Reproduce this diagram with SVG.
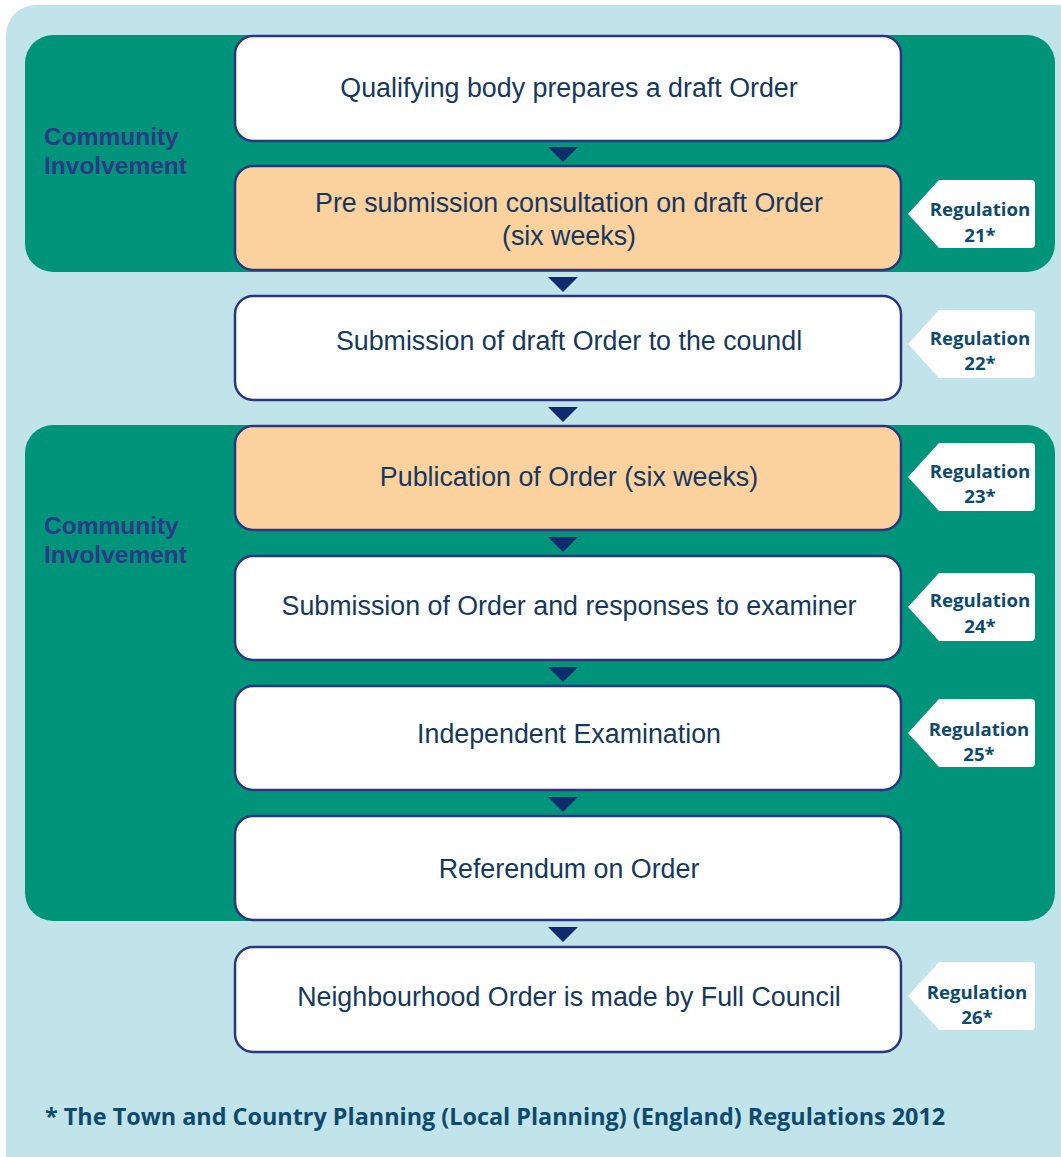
<svg xmlns="http://www.w3.org/2000/svg" width="1061" height="1157" viewBox="0 0 1061 1157">
<style>
.box{fill:#ffffff;stroke:#2a3680;stroke-width:2.5}
.peach{fill:#fbd19e}
.txt{font-family:"Liberation Sans",Arial,sans-serif;font-size:26.8px;fill:#16375e;text-anchor:middle}
.ci{font-family:"Liberation Sans",Arial,sans-serif;font-size:24.5px;font-weight:bold;fill:#2a3a86}
.tag{fill:#ffffff}
.reg{font-family:"Open Sans","Liberation Sans",sans-serif;font-size:18.6px;font-weight:bold;fill:#0e4a6e;text-anchor:middle}
.arr{fill:#0d2b6e}
.foot{font-family:"Open Sans","Liberation Sans",sans-serif;font-size:23.4px;font-weight:bold;fill:#0e4a6e}
</style>
<defs>
<path id="tagshape" d="M 939 0 L 1031 0 Q 1035 0 1035 4 L 1035 64 Q 1035 68 1031 68 L 939 68 L 908 34 Z"/>
</defs>
<rect x="6" y="5" width="1085" height="1182" rx="30" fill="#c1e4ea"/>
<g id="panel1"><rect x="25" y="35" width="1030" height="237" rx="28" fill="#00957a"/>
<text class="ci" x="44" y="145">Community</text><text class="ci" x="44" y="174">Involvement</text></g>
<g id="panel2"><rect x="25" y="425" width="1030" height="496" rx="28" fill="#00957a"/>
<text class="ci" x="44" y="534">Community</text><text class="ci" x="44" y="563">Involvement</text></g>
<g id="connectors">
<polygon class="arr" points="548,147 578,147 563,162"/>
<polygon class="arr" points="548,277 578,277 563,292"/>
<polygon class="arr" points="548,407 578,407 563,422"/>
<polygon class="arr" points="548,537 578,537 563,552"/>
<polygon class="arr" points="548,667 578,667 563,682"/>
<polygon class="arr" points="548,797 578,797 563,812"/>
<polygon class="arr" points="548,927 578,927 563,942"/>
</g>
<g id="n1"><rect class="box" x="235" y="36" width="666" height="105" rx="18"/><text class="txt" x="569" y="97">Qualifying body prepares a draft Order</text></g>
<g id="n2"><rect class="box peach" x="235" y="166" width="666" height="104" rx="18"/><text class="txt" x="569" y="212">Pre submission consultation on draft Order</text><text class="txt" x="569" y="245">(six weeks)</text></g>
<g id="n3"><rect class="box" x="235" y="296" width="666" height="104" rx="18"/><text class="txt" x="569" y="350">Submission of draft Order to the coundl</text></g>
<g id="n4"><rect class="box peach" x="235" y="426" width="666" height="104" rx="18"/><text class="txt" x="569" y="486">Publication of Order (six weeks)</text></g>
<g id="n5"><rect class="box" x="235" y="556" width="666" height="104" rx="18"/><text class="txt" x="569" y="615">Submission of Order and responses to examiner</text></g>
<g id="n6"><rect class="box" x="235" y="686" width="666" height="104" rx="18"/><text class="txt" x="569" y="743">Independent Examination</text></g>
<g id="n7"><rect class="box" x="235" y="816" width="666" height="104" rx="18"/><text class="txt" x="569" y="878">Referendum on Order</text></g>
<g id="n8"><rect class="box" x="235" y="947" width="666" height="105" rx="18"/><text class="txt" x="569" y="1006">Neighbourhood Order is made by Full Council</text></g>
<g id="reg21"><use href="#tagshape" class="tag" y="180"/><text class="reg" x="980" y="216">Regulation</text><text class="reg" x="980" y="242">21*</text></g>
<g id="reg22"><use href="#tagshape" class="tag" y="310"/><text class="reg" x="980" y="345">Regulation</text><text class="reg" x="980" y="370">22*</text></g>
<g id="reg23"><use href="#tagshape" class="tag" y="443"/><text class="reg" x="980" y="478">Regulation</text><text class="reg" x="980" y="503">23*</text></g>
<g id="reg24"><use href="#tagshape" class="tag" y="573"/><text class="reg" x="980" y="607">Regulation</text><text class="reg" x="980" y="633">24*</text></g>
<g id="reg25"><use href="#tagshape" class="tag" y="699"/><text class="reg" x="979" y="736">Regulation</text><text class="reg" x="979" y="761">25*</text></g>
<g id="reg26"><use href="#tagshape" class="tag" y="962"/><text class="reg" x="977" y="999">Regulation</text><text class="reg" x="977" y="1024">26*</text></g>
<text class="foot" x="45" y="1125">* The Town and Country Planning (Local Planning) (England) Regulations 2012</text>
</svg>
